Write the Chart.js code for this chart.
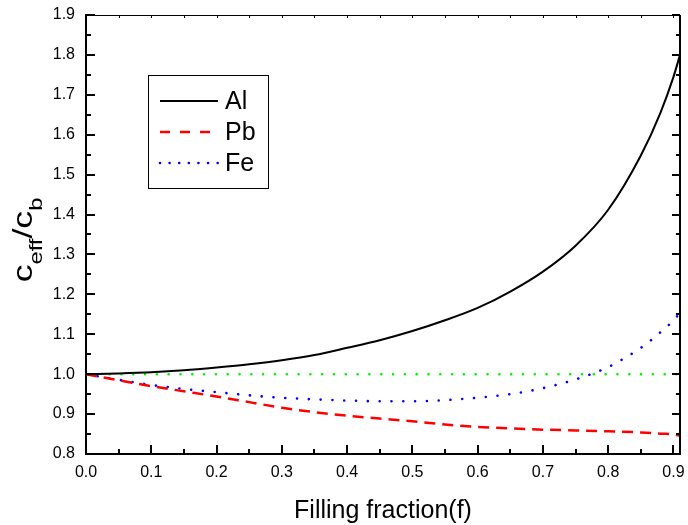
<!DOCTYPE html>
<html>
<head>
<meta charset="utf-8">
<script src="https://cdn.jsdelivr.net/npm/chart.js@4"></script>
<style>
html, body { margin: 0; padding: 0; background: #fff; }
</style>
</head>
<body>
<canvas id="myChart" width="688" height="525"></canvas>
<script>
// data
var fillFrac = [0, 0.05, 0.1, 0.15, 0.2, 0.25, 0.3, 0.35, 0.4, 0.45, 0.5, 0.55, 0.6, 0.65, 0.7, 0.75, 0.8, 0.85, 0.88, 0.9, 0.91];
var alVals  = [1.000, 1.002, 1.005, 1.010, 1.017, 1.025, 1.035, 1.048, 1.066, 1.085, 1.108, 1.135, 1.166, 1.207, 1.257, 1.322, 1.412, 1.548, 1.655, 1.745, 1.800];
var pbVals  = [1.000, 0.985, 0.970, 0.957, 0.944, 0.930, 0.916, 0.905, 0.896, 0.889, 0.882, 0.874, 0.868, 0.864, 0.861, 0.859, 0.857, 0.854, 0.851, 0.849, 0.846];
var feVals  = [1.000, 0.986, 0.973, 0.963, 0.955, 0.947, 0.941, 0.937, 0.934, 0.932, 0.932, 0.935, 0.941, 0.950, 0.965, 0.987, 1.018, 1.066, 1.105, 1.135, 1.154];
var refVals = [1, 1, 1, 1, 1, 1, 1, 1, 1, 1, 1, 1, 1, 1, 1, 1, 1, 1, 1, 1, 1];

var xMin = 0, xMax = 0.91, xStep = 0.1;
var yMin = 0.8, yMax = 1.9, yStep = 0.1;
var xTitle = "Filling fraction(f)";

var FONT = '"Liberation Sans", Arial, Helvetica, sans-serif';
Chart.defaults.font.family = FONT;
Chart.defaults.color = "#000";

function pts(vals) {
  return fillFrac.map(function (x, i) { return { x: x, y: vals[i] }; });
}

function noPad(s) {
  s.paddingTop = 0; s.paddingBottom = 0; s.paddingLeft = 0; s.paddingRight = 0;
}

// inward ticks on all four sides + top/right frame
var frameTicks = {
  id: "frameTicks",
  afterDraw: function (chart) {
    var ctx = chart.ctx, a = chart.chartArea;
    var sx = chart.scales.x, sy = chart.scales.y;
    ctx.save();
    ctx.strokeStyle = "#000";
    ctx.lineWidth = 1.2;
    ctx.beginPath();
    ctx.moveTo(a.left, a.top + 0.5);
    ctx.lineTo(a.right, a.top + 0.5);
    ctx.stroke();
    ctx.lineWidth = 2;
    ctx.beginPath();
    ctx.moveTo(a.right, a.top);
    ctx.lineTo(a.right, a.bottom + 1);
    ctx.stroke();

    var i, v, p, major;
    for (i = 0; i * 0.05 <= xMax + 1e-9; i++) {
      v = i * 0.05; p = Math.round(sx.getPixelForValue(v)); major = i % 2 === 0;
      ctx.lineWidth = 2;
      ctx.beginPath();
      ctx.moveTo(p, a.bottom);
      ctx.lineTo(p, a.bottom - (major ? 9 : 5));
      ctx.stroke();
      ctx.lineWidth = 1;
      ctx.beginPath();
      ctx.moveTo(p + 0.5, a.top);
      ctx.lineTo(p + 0.5, a.top + 3);
      ctx.stroke();
    }
    for (i = 0; yMin + i * 0.05 <= yMax + 1e-9; i++) {
      v = yMin + i * 0.05; p = Math.round(sy.getPixelForValue(v)); major = i % 2 === 0;
      ctx.lineWidth = 2;
      ctx.beginPath();
      ctx.moveTo(a.left, p);
      ctx.lineTo(a.left + (major ? 9 : 5), p);
      ctx.moveTo(a.right, p);
      ctx.lineTo(a.right - (major ? 8 : 4), p);
      ctx.stroke();
    }
    ctx.restore();
  }
};

// boxed legend inside the plot
var boxLegend = {
  id: "boxLegend",
  afterDatasetsDraw: function (chart) {
    var ctx = chart.ctx;
    ctx.save();
    ctx.fillStyle = "#fff";
    ctx.fillRect(148, 75, 120, 113);
    ctx.strokeStyle = "#000";
    ctx.lineWidth = 1;
    ctx.strokeRect(148.5, 75.5, 120, 113);
    var row = 0;
    chart.data.datasets.forEach(function (ds) {
      if (!ds.label) return;
      var yy = 101 + row * 31;
      ctx.strokeStyle = ds.borderColor;
      ctx.lineWidth = ds.borderWidth;
      ctx.lineCap = ds.borderCapStyle || "butt";
      ctx.setLineDash(ds.legendDash || []);
      ctx.beginPath();
      ctx.moveTo(160, yy);
      ctx.lineTo(218, yy);
      ctx.stroke();
      ctx.setLineDash([]);
      ctx.fillStyle = "#000";
      ctx.font = "25px " + FONT;
      ctx.textBaseline = "middle";
      ctx.textAlign = "left";
      ctx.fillText(ds.label, 225, yy + 1);
      row++;
    });
    ctx.restore();
  }
};

// y title c_eff / c_b with subscripts
var yTitle = {
  id: "yTitle",
  afterDraw: function (chart) {
    var ctx = chart.ctx;
    var big = "27px " + FONT, small = "18px " + FONT;
    var parts = [["c", big, 0], ["eff", small, 10], ["/", big, 0], ["c", big, 0], ["b", small, 10]];
    ctx.save();
    var total = 0;
    parts.forEach(function (q) { ctx.font = q[1]; total += ctx.measureText(q[0]).width; });
    var stretch = 1.32;
    ctx.translate(32, 240);
    ctx.rotate(-Math.PI / 2);
    ctx.scale(stretch, 1);
    ctx.fillStyle = "#000";
    ctx.textBaseline = "alphabetic";
    ctx.textAlign = "left";
    var xx = -total / 2;
    parts.forEach(function (q) {
      ctx.font = q[1];
      ctx.fillText(q[0], xx, q[2]);
      xx += ctx.measureText(q[0]).width;
    });
    ctx.restore();
  }
};

new Chart("myChart", {
  type: "line",
  data: {
    datasets: [{
      label: "Al",
      data: pts(alVals),
      borderColor: "#000000",
      borderWidth: 2,
      legendDash: []
    }, {
      label: "Pb",
      data: pts(pbVals),
      borderColor: "#ff0000",
      borderWidth: 2.5,
      borderDash: [11, 7],
      legendDash: [10, 10]
    }, {
      label: "Fe",
      data: pts(feVals),
      borderColor: "#0000ff",
      borderWidth: 2.6,
      borderCapStyle: "round",
      borderDash: [0.01, 11.8],
      legendDash: [0.01, 9.6]
    }, {
      label: "",
      data: pts(refVals),
      borderColor: "#00f000",
      borderWidth: 2.6,
      borderCapStyle: "round",
      borderDash: [0.01, 11.8]
    }]
  },
  options: {
    responsive: false,
    animation: false,
    devicePixelRatio: 1,
    layout: { padding: { top: 15, right: 8, left: 0, bottom: 0 } },
    elements: {
      point: { radius: 0, hoverRadius: 0 },
      line: { cubicInterpolationMode: "monotone", fill: false }
    },
    plugins: {
      legend: { display: false },
      tooltip: { enabled: false }
    },
    scales: {
      x: {
        type: "linear",
        min: xMin,
        max: xMax,
        afterFit: function (s) { s.height = 71; noPad(s); },
        afterBuildTicks: function (s) {
          s.ticks = s.ticks.filter(function (t) { return Math.abs(t.value * 10 - Math.round(t.value * 10)) < 1e-6; });
        },
        grid: { display: false, drawTicks: false },
        border: { display: true, color: "#000", width: 2 },
        ticks: {
          stepSize: xStep,
          includeBounds: false,
          padding: 9,
          maxRotation: 0,
          font: { size: 16 },
          callback: function (v) { return Number(v).toFixed(1); }
        },
        title: {
          display: true,
          text: xTitle,
          font: { size: 25, lineHeight: 1 },
          padding: { top: 0, bottom: 1 }
        }
      },
      y: {
        type: "linear",
        min: yMin,
        max: yMax,
        afterFit: function (s) { s.width = 86; noPad(s); },
        grid: { display: false, drawTicks: false },
        border: { display: true, color: "#000", width: 2 },
        ticks: {
          stepSize: yStep,
          padding: 11,
          font: { size: 16 },
          callback: function (v) { return Number(v).toFixed(1); }
        }
      }
    }
  },
  plugins: [frameTicks, boxLegend, yTitle]
});
</script>
</body>
</html>
